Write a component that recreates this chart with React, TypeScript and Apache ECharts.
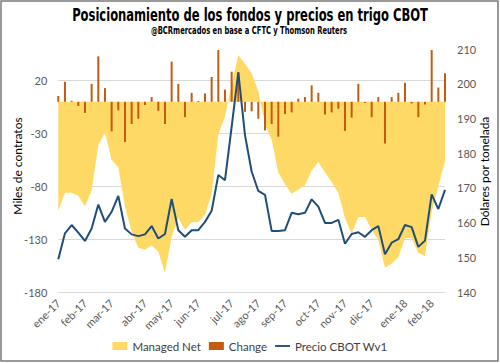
import React, { useEffect, useRef } from 'react';
import * as echarts from 'echarts';

// Weekly CFTC report dates (Tuesdays), 03/01/2017 - 13/02/2018
const weeks = [
  '03/01/17', '10/01/17', '17/01/17', '24/01/17', '31/01/17',
  '07/02/17', '14/02/17', '21/02/17', '28/02/17',
  '07/03/17', '14/03/17', '21/03/17', '28/03/17',
  '04/04/17', '11/04/17', '18/04/17', '25/04/17',
  '02/05/17', '09/05/17', '16/05/17', '23/05/17', '30/05/17',
  '06/06/17', '13/06/17', '20/06/17', '27/06/17',
  '04/07/17', '11/07/17', '18/07/17', '25/07/17',
  '01/08/17', '08/08/17', '15/08/17', '22/08/17', '29/08/17',
  '05/09/17', '12/09/17', '19/09/17', '26/09/17',
  '03/10/17', '10/10/17', '17/10/17', '24/10/17', '31/10/17',
  '07/11/17', '14/11/17', '21/11/17', '28/11/17',
  '05/12/17', '12/12/17', '19/12/17', '26/12/17',
  '02/01/18', '09/01/18', '16/01/18', '23/01/18', '30/01/18',
  '06/02/18', '13/02/18',
];

// Month tick labels and the week index they sit on
const tickLabels = ['ene-17', 'feb-17', 'mar-17', 'abr-17', 'may-17', 'jun-17', 'jul-17', 'ago-17', 'sep-17', 'oct-17', 'nov-17', 'dic-17', 'ene-18', 'feb-18'];
const tickIndex = [0, 4, 8, 13, 17, 21, 26, 30, 34, 39, 43, 47, 52, 56];

// Managed money net position (miles de contratos)
const managedNet = [
  -103, -86, -86, -89, -99, -84, -41, -29, -55, -62,
  -99, -123, -138, -140, -136, -142, -162, -128, -110, -121,
  -114, -114, -107, -87, -31, -14, 16, 44, 36, 27,
  10, -21, -36, -67, -78, -87, -83, -79, -65, -57,
  -67, -76, -86, -110, -125, -109, -109, -121, -131, -157,
  -153, -147, -129, -129, -143, -146, -104, -80, -56,
];

// Weekly change (miles de contratos)
const change = [
  5.5, 19, 1, -4, -10.5, 17, 43, 13, -28, -8,
  -38, -21, -16, -3, 4.5, -8.5, -21, 38, 17, -14.5,
  8.5, 0.8, 8, 23.5, 49, 11.5, 28.5, 28, -9.5, -9,
  -16, -27, -21, -33, -11.5, -10, 3, 4.5, 15.5, 8.5,
  -12, -10, -6.5, -27.5, -15, 17, -1, -14.5, 4.5, -39.5,
  4.5, 8.5, 18, -1.5, -14.5, -2.5, 49, 13.5, 27,
];

// Precio CBOT Wv1 (USD/t)
const price = [
  149.4, 156.9, 159.3, 157.1, 154.7, 158.3, 165.2, 160.2, 163.1, 167.7,
  158.3, 156.6, 156.1, 156.6, 159.0, 155.4, 156.7, 166.8, 157.8, 155.9,
  157.8, 157.8, 160.2, 163.4, 173.7, 172.2, 187.6, 203.3, 185.2, 174.7,
  169.1, 168.0, 157.6, 157.6, 157.8, 162.8, 162.4, 162.8, 166.7, 164.6,
  159.9, 159.9, 160.8, 153.9, 156.7, 157.2, 155.9, 157.8, 159.0, 150.9,
  154.2, 155.2, 159.3, 158.7, 153.0, 154.8, 168.1, 163.9, 169.4,
];

const LEFT_MIN = -180;
const LEFT_MAX = 50;
const LEFT_STEP = 50;
const RIGHT_MIN = 140;
const RIGHT_MAX = 210;
const RIGHT_STEP = 10;

const TITLE = 'Posicionamiento de los fondos y precios en trigo CBOT';
const SUBTITLE = '@BCRmercados en base a CFTC y Thomson Reuters';

const LABEL_FONT = 'Lato';
const TITLE_FONT = '"Liberation Sans Narrow", "DejaVu Sans Condensed", sans-serif';

const BOX_ICON = 'path://M0,0H15V8H0Z';
const LINE_ICON = 'path://M0,0H16V2H0Z';

export default function App() {
  const ref = useRef<HTMLDivElement>(null);

  useEffect(() => {
    if (!ref.current) return;
    const chart = echarts.init(ref.current, undefined, { renderer: 'svg' });
    const option: any = {
      animation: false,
      backgroundColor: '#ffffff',
      grid: { left: 58.3, right: 55, top: 49, bottom: 71, containLabel: false },
      graphic: [
        {
          type: 'rect',
          shape: { x: 1, y: 1, width: 497, height: 360 },
          style: { fill: 'none', stroke: '#7a7a7a', lineWidth: 1.5 },
          silent: true,
        },
        {
          type: 'text',
          x: 250,
          y: 15,
          scaleX: 0.755,
          style: {
            text: TITLE,
            font: `bold 17px ${TITLE_FONT}`,
            fill: '#000000',
            textAlign: 'center',
            textVerticalAlign: 'middle',
          },
        },
        {
          type: 'text',
          x: 249,
          y: 31,
          scaleX: 0.72,
          style: {
            text: SUBTITLE,
            font: `bold 10.5px ${TITLE_FONT}`,
            fill: '#000000',
            textAlign: 'center',
            textVerticalAlign: 'middle',
          },
        },
        {
          type: 'text',
          x: 17.5,
          y: 166,
          rotation: Math.PI / 2,
          style: {
            text: 'Miles de contratos',
            font: `12px ${LABEL_FONT}`,
            fill: '#000000',
            textAlign: 'center',
            textVerticalAlign: 'middle',
          },
        },
        {
          type: 'text',
          x: 484.5,
          y: 171.5,
          rotation: Math.PI / 2,
          style: {
            text: 'Dólares por tonelada',
            font: `12px ${LABEL_FONT}`,
            fill: '#000000',
            textAlign: 'center',
            textVerticalAlign: 'middle',
          },
        },
      ],
      legend: {
        left: 'center',
        bottom: 6,
        itemWidth: 15,
        itemHeight: 8,
        itemGap: 8,
        itemStyle: { borderWidth: 0 },
        textStyle: { fontFamily: LABEL_FONT, fontSize: 11.5, color: '#404040' },
        data: [
          { name: 'Managed Net', icon: BOX_ICON },
          { name: 'Change', icon: BOX_ICON },
          { name: 'Precio CBOT Wv1', icon: LINE_ICON },
        ],
      },
      xAxis: {
        type: 'category',
        data: weeks,
        boundaryGap: false,
        axisLine: { show: false },
        axisTick: { show: false },
        splitLine: { show: false },
        axisLabel: {
          interval: (idx: number) => tickIndex.indexOf(idx) >= 0,
          formatter: (_v: string, idx: number) => {
            const k = tickIndex.indexOf(idx);
            return k >= 0 ? tickLabels[k] : '';
          },
          rotate: 45,
          margin: 9,
          fontFamily: LABEL_FONT,
          fontSize: 11,
          color: '#595959',
        },
      },
      yAxis: [
        {
          type: 'value',
          min: LEFT_MIN,
          max: LEFT_MAX,
          interval: LEFT_STEP,
          axisLine: { show: false },
          axisTick: { show: false },
          axisLabel: {
            showMaxLabel: false,
            margin: 11,
            fontFamily: LABEL_FONT,
            fontSize: 11,
            color: '#595959',
          },
          splitLine: {
            show: true,
            showMaxLine: false,
            lineStyle: {
              color: ['#d9d9d9', '#d9d9d9', '#d9d9d9', '#d9d9d9', '#d9d9d9', 'rgba(0,0,0,0)'],
              width: 1,
            },
          },
        },
        {
          type: 'value',
          position: 'right',
          min: RIGHT_MIN,
          max: RIGHT_MAX,
          interval: RIGHT_STEP,
          axisLine: { show: false },
          axisTick: { show: false },
          splitLine: { show: false },
          axisLabel: {
            margin: 12,
            fontFamily: LABEL_FONT,
            fontSize: 11,
            color: '#595959',
          },
        },
      ],
      series: [
        {
          name: 'Managed Net',
          type: 'line',
          yAxisIndex: 0,
          data: managedNet,
          symbol: 'none',
          lineStyle: { width: 0 },
          itemStyle: { color: '#FFD966' },
          areaStyle: { color: '#FFD966', opacity: 1 },
          z: 1,
        },
        {
          name: 'Change',
          type: 'bar',
          yAxisIndex: 0,
          data: change,
          barWidth: 2,
          itemStyle: { color: '#C55A11' },
          z: 2,
        },
        {
          name: 'Precio CBOT Wv1',
          type: 'line',
          yAxisIndex: 1,
          data: price,
          symbol: 'none',
          lineStyle: { width: 2, color: '#1F4E79' },
          itemStyle: { color: '#1F4E79' },
          z: 3,
        },
      ],
    };
    chart.setOption(option);
    return () => chart.dispose();
  }, []);

  return (
    <div
      ref={ref}
      style={{ position: 'absolute', left: 0, top: 0, width: 500, height: 363, background: '#fff' }}
    />
  );
}
